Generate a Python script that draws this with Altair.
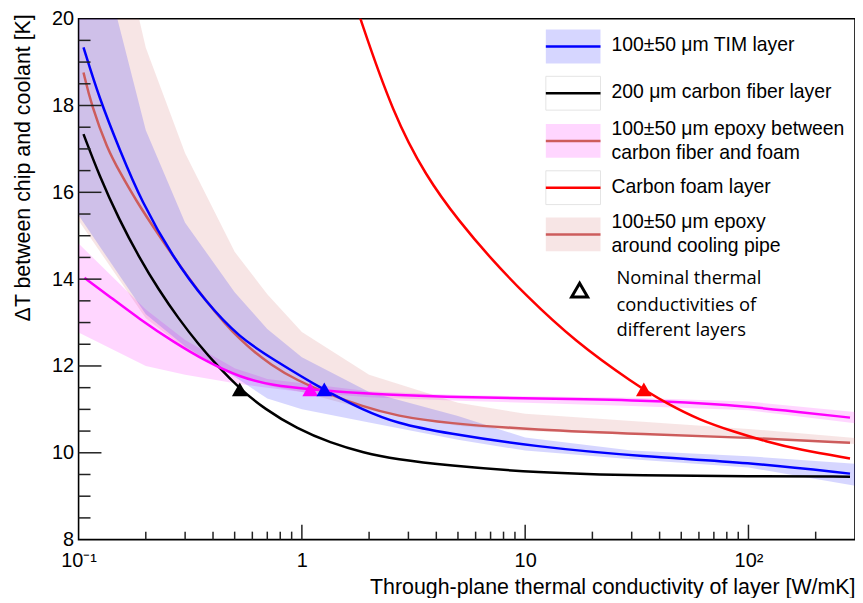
import altair as alt
import pandas as pd

# ---------------- data ----------------
# central curves: through-plane conductivity k [W/mK] vs dT [K]
tim_k = [0.1052, 0.1239, 0.1536, 0.1912, 0.2637, 0.3714, 0.5265, 0.7397, 1.2585, 1.894, 2.652, 4.418, 11.07, 34.05, 99.5, 285]
tim_dT = [19.34, 18.16, 16.95, 15.79, 14.51, 13.47, 12.65, 12.16, 11.44, 10.98, 10.68, 10.45, 10.14, 9.91, 9.78, 9.52]

cf_k = [0.1052, 0.1239, 0.152, 0.1864, 0.2287, 0.2805, 0.344, 0.4221, 0.5265, 0.68, 0.955, 1.342, 1.888, 2.652, 4.418, 11.07, 34.05, 99.5, 285]
cf_dT = [17.34, 16.38, 15.37, 14.51, 13.75, 13.09, 12.5, 11.98, 11.48, 11.01, 10.55, 10.23, 10.0, 9.85, 9.71, 9.54, 9.47, 9.46, 9.45]

epo1_k = [0.1063, 0.1345, 0.1897, 0.2665, 0.3745, 0.5265, 0.7397, 1.091, 1.888, 4.418, 11.07, 34.05, 85.3, 142.2, 285]
epo1_dT = [14.03, 13.64, 13.06, 12.55, 12.1, 11.74, 11.55, 11.46, 11.36, 11.28, 11.25, 11.21, 11.1, 10.98, 10.81]

foam_k = [1.624, 1.823, 2.564, 3.602, 5.061, 7.117, 10.0, 16.66, 30.75, 43.2, 60.75, 85.3, 120, 168.7, 285]
foam_dT = [20.82, 20.0, 17.8, 16.36, 15.33, 14.44, 13.64, 12.57, 11.59, 11.13, 10.75, 10.49, 10.26, 10.07, 9.87]

epo2_k = [0.1052, 0.1142, 0.1345, 0.1536, 0.1808, 0.2287, 0.2805, 0.3714, 0.5265, 0.7397, 0.955, 1.2585, 1.888, 2.652, 4.418, 11.07, 34.05, 99.5, 285]
epo2_dT = [18.76, 18.0, 17.0, 16.45, 15.81, 15.01, 14.35, 13.49, 12.58, 11.99, 11.67, 11.39, 11.06, 10.85, 10.68, 10.53, 10.43, 10.35, 10.23]

# uncertainty bands (100 +- 50 um thickness)
band_k = [0.1, 0.2, 0.3, 0.5, 0.7, 1, 2, 5, 10, 30, 100, 300]
tim_hi = [23.5, 17.43, 15.3, 13.7, 12.85, 12.2, 11.4, 10.85, 10.35, 10.05, 9.92, 9.75]
tim_lo = [15.47, 13.19, 12.45, 11.75, 11.25, 11.0, 10.7, 10.3, 10.05, 9.85, 9.66, 9.24]
epo1_hi = [14.82, 13.3, 12.6, 11.95, 11.7, 11.6, 11.42, 11.33, 11.3, 11.27, 11.18, 10.94]
epo1_lo = [12.77, 12.0, 11.8, 11.6, 11.5, 11.4, 11.28, 11.2, 11.15, 11.08, 10.98, 10.68]
epo2_hi = [26.0, 19.33, 16.9, 14.63, 13.65, 12.78, 11.8, 11.15, 10.9, 10.73, 10.55, 10.34]
epo2_lo = [15.35, 13.1, 12.4, 11.8, 11.55, 11.4, 10.98, 10.62, 10.5, 10.42, 10.33, 10.2]

# nominal conductivities (triangles)
nom_layer = ["carbon fiber", "epoxy CF-foam", "TIM", "carbon foam"]
nom_k = [0.527, 1.09, 1.26, 34.0]
nom_dT = [11.46, 11.46, 11.46, 11.46]

# axis ticks
x_label_values = [0.1, 1, 10, 100]
x_major_ticks = [1, 10, 100]
x_minor_ticks = [0.2, 0.3, 0.4, 0.5, 0.6, 0.7, 0.8, 0.9, 2, 3, 4, 5, 6, 7, 8, 9,
                 20, 30, 40, 50, 60, 70, 80, 90, 200]
y_major_ticks = [10, 12, 14, 16, 18]
y_minor_ticks = [8.5, 9, 9.5, 10.5, 11, 11.5, 12.5, 13, 13.5, 14.5, 15, 15.5,
                 16.5, 17, 17.5, 18.5, 19, 19.5]
y_label_values = [8, 10, 12, 14, 16, 18, 20]

legend_lines = [
    ["100±50 μm TIM layer"],
    ["200 μm carbon fiber layer"],
    ["100±50 μm epoxy between", "carbon fiber and foam"],
    ["Carbon foam layer"],
    ["100±50 μm epoxy", "around cooling pipe"],
]
legend_nominal = ["Nominal thermal", "conductivities of", "different layers"]

x_title = "Through-plane thermal conductivity of layer [W/mK]"
y_title = "ΔT between chip and coolant [K]"

# ---------------- styling ----------------
W, H = 781, 524
FONT = "Liberation Sans"
BLUE, BLACK, MAG, RED, BROWN = "#0000ff", "#000000", "#ff00ff", "#ff0000", "#cd5c5c"

xs = alt.Scale(type="log", domain=[0.1, 300], nice=False)
ys = alt.Scale(domain=[8, 20], nice=False, zero=False)

x_axis = alt.Axis(
    values=x_label_values,
    labelExpr="datum.value < 0.5 ? '10⁻¹' : datum.value < 5 ? '1' : datum.value < 50 ? '10' : '10²'",
    ticks=False, tickSize=0, domain=False, grid=False,
    labelFont=FONT, labelFontSize=20, labelColor="black", labelPadding=11,
    labelFlush=False, labelOverlap=False,
    title=x_title, titleFont=FONT, titleFontSize=21.5, titleFontWeight="normal",
    titleColor="black", titleAlign="right", titleBaseline="alphabetic",
    titleX=W, titleY=54,
)
y_axis = alt.Axis(
    values=y_label_values,
    ticks=False, tickSize=0, domain=False, grid=False,
    labelFont=FONT, labelFontSize=20, labelColor="black", labelPadding=5,
    labelFlush=False, labelOverlap=False,
    title=y_title, titleFont=FONT, titleFontSize=21.5, titleFontWeight="normal",
    titleColor="black", titleAngle=270, titleAlign="right", titleBaseline="middle",
    titleX=-55, titleY=-5,
)


def X(field):
    return alt.X(field, scale=xs, axis=x_axis)


def Y(field):
    return alt.Y(field, scale=ys, axis=y_axis)


def band(k, lo, hi, color, op):
    df = pd.DataFrame({"k": k, "lo": lo, "hi": hi})
    return alt.Chart(df).mark_area(color=color, opacity=op, clip=True, interpolate="linear").encode(
        x=X("k:Q"), y=Y("lo:Q"), y2="hi:Q")


def curve(k, t, color):
    df = pd.DataFrame({"k": k, "dT": t})
    return alt.Chart(df).mark_line(color=color, strokeWidth=2.5, interpolate="basis", clip=True).encode(
        x=X("k:Q"), y=Y("dT:Q"))


def xticks(vals, length):
    return alt.Chart(pd.DataFrame({"k": vals})).mark_rule(color="#222222", strokeWidth=1.5).encode(
        x=X("k:Q"), y=alt.value(H), y2=alt.value(H - length))


def yticks(vals, length):
    return alt.Chart(pd.DataFrame({"dT": vals})).mark_rule(color="#222222", strokeWidth=1.5).encode(
        y=Y("dT:Q"), x=alt.value(0), x2=alt.value(length))


one = pd.DataFrame({"a": [0]})

layers = [
    band(band_k, epo2_lo, epo2_hi, BROWN, 0.16),
    band(band_k, epo1_lo, epo1_hi, MAG, 0.16),
    band(band_k, tim_lo, tim_hi, BLUE, 0.16),
    curve(epo2_k, epo2_dT, BROWN),
    curve(tim_k, tim_dT, BLUE),
    curve(cf_k, cf_dT, BLACK),
    curve(epo1_k, epo1_dT, MAG),
    curve(foam_k, foam_dT, RED),
    alt.Chart(pd.DataFrame({"k": nom_k, "dT": nom_dT, "layer": nom_layer})).mark_point(
        shape="triangle-up", filled=True, opacity=1, size=250).encode(
        x=X("k:Q"), y=Y("dT:Q"),
        color=alt.Color("layer:N", legend=None,
                        scale=alt.Scale(domain=nom_layer, range=[BLACK, MAG, BLUE, RED])),
    ),
    xticks(x_major_ticks, 15),
    xticks(x_minor_ticks, 8),
    yticks(y_major_ticks, 23),
    yticks(y_minor_ticks, 12),
]

# ---------------- legend (drawn inside the plot, top right) ----------------
sw_fill = [(BLUE, 0.16), ("#ffffff", 1), (MAG, 0.16), ("#ffffff", 1), (BROWN, 0.16)]
sw_line = [BLUE, BLACK, BROWN, RED, BROWN]
row_top = [11, 58, 106, 153, 200]
for i in range(5):
    top = row_top[i]
    fill, op = sw_fill[i]
    layers.append(alt.Chart(one).mark_rect(fill=fill, fillOpacity=op, stroke="#e4e4e4",
                                           strokeWidth=1 if op == 1 else 0).encode(
        x=alt.value(470), x2=alt.value(525), y=alt.value(top), y2=alt.value(top + 34)))
    layers.append(alt.Chart(one).mark_rule(color=sw_line[i], strokeWidth=2.5).encode(
        x=alt.value(470), x2=alt.value(525), y=alt.value(top + 17), y2=alt.value(top + 17)))
    lines = legend_lines[i]
    if len(lines) == 1:
        ys_txt = [top + 16]
    else:
        ys_txt = [top + 5, top + 29]
    for txt, yy in zip(lines, ys_txt):
        layers.append(alt.Chart(one).mark_text(align="left", baseline="middle", font=FONT,
                                               fontSize=19.5, color="black").encode(
            x=alt.value(536), y=alt.value(yy), text=alt.value(txt)))

layers.append(alt.Chart(one).mark_point(shape="triangle-up", filled=False, color="black",
                                        strokeWidth=3, size=260, opacity=1).encode(
    x=alt.value(504), y=alt.value(273)))
for txt, yy in zip(legend_nominal, [261, 288, 313]):
    layers.append(alt.Chart(one).mark_text(align="left", baseline="middle", font="Open Sans",
                                           fontSize=18.5, color="black").encode(
        x=alt.value(541), y=alt.value(yy), text=alt.value(txt)))

chart = alt.layer(*layers).properties(
    width=W, height=H,
    padding={"left": 71, "top": 9, "right": 0, "bottom": 57},
    autosize=alt.AutoSizeParams(type="none"),
).configure_view(stroke="black", strokeWidth=1.6)

chart.save("out.html", embed_options={"renderer": "svg", "actions": False})
